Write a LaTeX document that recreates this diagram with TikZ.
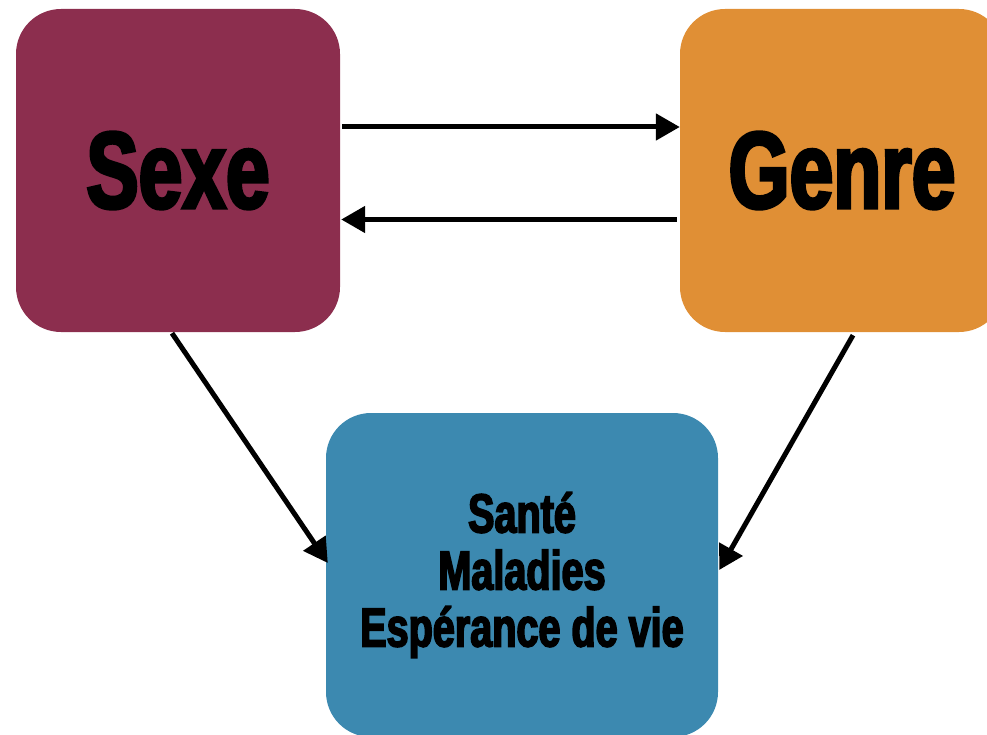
\documentclass[tikz,border=0pt]{standalone}
\usepackage{fontspec}
\usepackage{tikz}
\usetikzlibrary{positioning}
\usetikzlibrary{arrows.meta}
\newfontfamily\boxfont{Liberation Sans Bold}[FakeStretch=0.72,FakeBold=3]
\definecolor{sexecol}{HTML}{8C2E4E}
\definecolor{genrecol}{HTML}{E08F35}
\definecolor{santecol}{HTML}{3C89B0}
\tikzset{>={Triangle[length=24pt,width=26pt]}}

\begin{document}
\begin{tikzpicture}[x=1pt,y=-1pt,
  bigbox/.style={rounded corners=45pt, inner sep=0pt, minimum width=324pt, minimum height=323pt},
  bigtext/.style={font=\boxfont\fontsize{109}{109}\selectfont},
  flow/.style={->, line width=5pt}]

% Frame
\useasboundingbox (0,0) rectangle (987,735);
\clip (0,0) rectangle (987,735);

% Boxes
\node[bigbox, fill=sexecol, bigtext] (sexe) at (178,170.5) {Sexe};
\node[bigbox, fill=genrecol, bigtext] (genre) at (842,170.5) {Genre};
\node[bigbox, fill=santecol, minimum width=392pt, minimum height=324pt, align=center,
  font=\boxfont\fontsize{55}{57}\selectfont] (sante) at (522,575)
  {Santé\\Maladies\\Espérance de vie};

% Between sexe and genre
\draw[flow] ([xshift=2pt,yshift=43.5pt]sexe.east) -- ([yshift=43.5pt]genre.west);
\draw[flow] ([xshift=-3pt,yshift=-49pt]genre.west) -- ([xshift=1pt,yshift=-49pt]sexe.east);

% Down to sante
\draw[flow] ([xshift=-6pt,yshift=-1pt]sexe.south) -- ([xshift=2pt,yshift=12pt]sante.west);
\draw[flow] ([xshift=11pt,yshift=-3pt]genre.south) -- ([xshift=1pt,yshift=5pt]sante.east);

\end{tikzpicture}
\end{document}
